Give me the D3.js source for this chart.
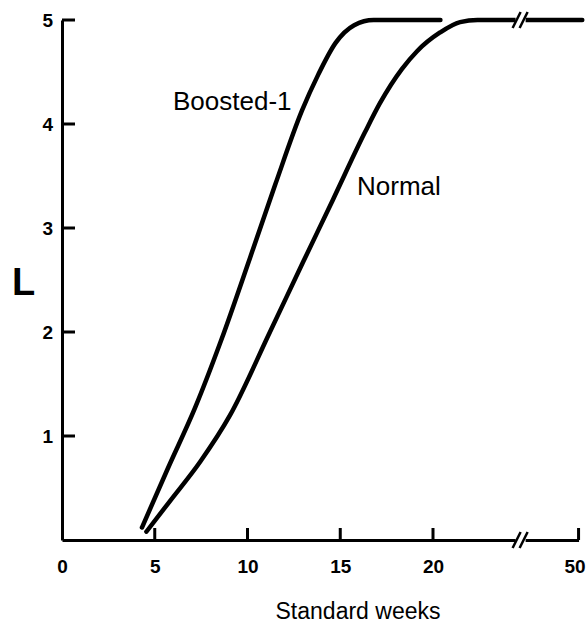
<!DOCTYPE html>
<html>
<head>
<meta charset="utf-8">
<script src="https://cdn.jsdelivr.net/npm/d3@7"></script>
<style>
  body { margin: 0; background: #fff; }
  svg { display: block; font-family: "Liberation Sans", Arial, sans-serif; }
</style>
</head>
<body>
<svg id="chart"></svg>
<script>
"use strict";

// /////// DATA

const boostedWeeks = [4.31, 5.71, 7.17, 8.6, 10.13, 11.5, 12.94, 13.8, 14.75, 15.75, 16.8, 20.4];
const boostedL = [0.12, 0.69, 1.27, 1.93, 2.71, 3.42, 4.13, 4.47, 4.78, 4.95, 5.0, 5.0];

const normalWeeks = [4.55, 5.8, 7.44, 9.06, 11.21, 12.99, 14.6, 16.33, 17.14, 18.33, 19.14, 20.38, 21.46, 22.4, 50.2];
const normalL = [0.08, 0.37, 0.75, 1.2, 2.0, 2.67, 3.27, 3.92, 4.2, 4.53, 4.7, 4.88, 4.98, 5.0, 5.0];

const xTicks = [0, 5, 10, 15, 20, 50];
const yTicks = [1, 2, 3, 4, 5];

const seriesLabels = ["Boosted-1", "Normal"];

// axis break (weeks hidden between these two values)
const breakFrom = 24.4;
const breakTo = 47.2;

// /////// LAYOUT

const width = 587;
const height = 629;
const margin = { top: 20, right: 9, bottom: 89, left: 62 };

const svg = d3.select("#chart").attr("width", width).attr("height", height);

const innerBottom = height - margin.bottom;
const pxPerWeek = 18.55;
const gap = 12;

// piecewise scale with a gap for the broken part of the axis
const xStart = margin.left;
const xBreakL = xStart + breakFrom * pxPerWeek;
const xBreakR = xBreakL + gap;
const xEnd = xBreakR + (50 - breakTo) * pxPerWeek;

const x = d3
  .scaleLinear()
  .domain([0, breakFrom, breakTo, 50])
  .range([xStart, xBreakL, xBreakR, xEnd]);

const y = d3.scaleLinear().domain([0, 5]).range([innerBottom, margin.top]);

// /////// AXES

const yAxis = svg
  .append("g")
  .attr("transform", `translate(${margin.left}, 0)`)
  .call(
    d3.axisLeft(y).tickValues(yTicks).tickFormat(d3.format("d"))
      .tickSize(0).tickPadding(9)
  );

const xAxis = svg
  .append("g")
  .attr("transform", `translate(0, ${innerBottom})`)
  .call(
    d3.axisBottom(x).tickValues(xTicks).tickFormat(d3.format("d"))
      .tickSize(0).tickPadding(20)
  );

[yAxis, xAxis].forEach((ax) => {
  ax.select(".domain").attr("stroke", "#000").attr("stroke-width", 3);
  ax.selectAll(".tick text")
    .attr("fill", "#000")
    .style("font-size", "19px")
    .style("font-weight", "bold");
});

// last label sits against the right edge
xAxis.selectAll(".tick text").filter((d) => d === 50).attr("dx", "-4px");

// tick marks point into the plot - drawn as thin filled rects
svg
  .append("g")
  .selectAll("rect")
  .data(yTicks)
  .join("rect")
  .attr("x", margin.left)
  .attr("y", (d) => y(d) - 1.5)
  .attr("width", 13)
  .attr("height", 3)
  .attr("fill", "#000");

svg
  .append("g")
  .selectAll("rect")
  .data(xTicks.filter((d) => d !== 0))
  .join("rect")
  .attr("x", (d) => x(d) - 1.5)
  .attr("y", innerBottom - 12)
  .attr("width", 3)
  .attr("height", 12)
  .attr("fill", "#000");

// /////// CURVES

const line = d3
  .line()
  .x((d) => x(d[0]))
  .y((d) => y(d[1]))
  .curve(d3.curveMonotoneX);

const series = [
  d3.zip(boostedWeeks, boostedL),
  d3.zip(normalWeeks, normalL),
];

svg
  .append("g")
  .selectAll("path")
  .data(series)
  .join("path")
  .attr("d", line)
  .attr("fill", "none")
  .attr("stroke", "#000")
  .attr("stroke-width", 4.5)
  .attr("stroke-linecap", "round")
  .attr("stroke-linejoin", "round");

// /////// BREAK MARKS (on the axis and on the Normal curve)

function breakMark(cy) {
  const cx = (xBreakL + xBreakR) / 2;
  const g = svg.append("g");
  g.append("rect")
    .attr("x", xBreakL + 1)
    .attr("y", cy - 5)
    .attr("width", gap - 2)
    .attr("height", 10)
    .attr("fill", "#fff");
  g.append("path")
    .attr("d", [-4, 3].map((off) => `M${cx + off - 4},${cy + 8}L${cx + off + 4},${cy - 8}`).join(""))
    .attr("fill", "none")
    .attr("stroke", "#000")
    .attr("stroke-width", 2.5);
}

breakMark(innerBottom);
breakMark(y(5));

// /////// LABELS

svg
  .append("text")
  .attr("x", 173)
  .attr("y", 110)
  .style("font-size", "26px")
  .text(seriesLabels[0]);

svg
  .append("text")
  .attr("x", 357)
  .attr("y", 195)
  .style("font-size", "26px")
  .text(seriesLabels[1]);

svg
  .append("text")
  .attr("x", 12)
  .attr("y", 295)
  .style("font-size", "38px")
  .style("font-weight", "bold")
  .text("L");

svg
  .append("text")
  .attr("x", 358)
  .attr("y", 619)
  .attr("text-anchor", "middle")
  .style("font-size", "23px")
  .text("Standard weeks");
</script>
</body>
</html>
